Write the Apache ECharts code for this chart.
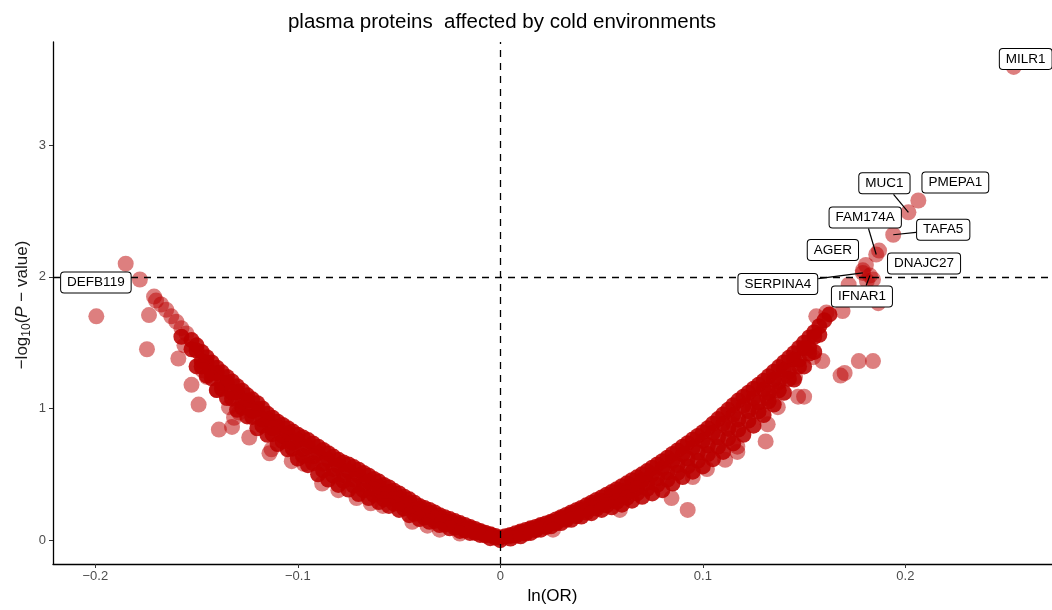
<!DOCTYPE html>
<html><head><meta charset="utf-8">
<script src="https://cdn.jsdelivr.net/npm/echarts@6/dist/echarts.min.js"></script>
<style>html,body{margin:0;padding:0;background:#fff}#c{width:1052px;height:610px}</style>
</head><body><div id="c"></div>
<script>
// ---------- data ----------
const titleText = 'plasma proteins  affected by cold environments';
const xTicks = [-0.2, -0.1, 0, 0.1, 0.2];
const yTicks = [0, 1, 2, 3];

// left branch of the volcano: rows across the dense band, from its upper edge to its lower edge
const leftUpper = [[-0.1525,1.52],[-0.15,1.48],[-0.1475,1.43],[-0.145,1.39],[-0.1425,1.35],[-0.14,1.31],[-0.1375,1.275],[-0.135,1.24],[-0.1325,1.205],[-0.13,1.17],[-0.1275,1.135],[-0.125,1.10],[-0.1225,1.07],[-0.12,1.04],[-0.1175,1.00],[-0.115,0.96],[-0.1125,0.93],[-0.11,0.90],[-0.1075,0.875],[-0.105,0.85],[-0.1025,0.825],[-0.1,0.80],[-0.0975,0.78],[-0.095,0.76],[-0.0925,0.735],[-0.09,0.71],[-0.0875,0.685],[-0.085,0.66],[-0.0825,0.635],[-0.08,0.61],[-0.0775,0.59],[-0.075,0.575],[-0.0725,0.555],[-0.07,0.535],[-0.0675,0.51],[-0.065,0.49],[-0.0625,0.465],[-0.06,0.445],[-0.0575,0.42],[-0.055,0.40],[-0.0525,0.375],[-0.05,0.355],[-0.0475,0.33],[-0.045,0.31],[-0.0425,0.285],[-0.04,0.26],[-0.0375,0.245],[-0.035,0.23],[-0.0325,0.21],[-0.03,0.19],[-0.0275,0.175],[-0.025,0.16],[-0.0225,0.145],[-0.02,0.13],[-0.0175,0.115],[-0.015,0.10],[-0.0125,0.085],[-0.01,0.07],[-0.0075,0.057],[-0.005,0.045],[-0.0025,0.032],[0,0.02]];
const leftUpper2 = [[-0.15,1.44],[-0.145,1.35],[-0.14,1.27],[-0.135,1.195],[-0.13,1.125],[-0.125,1.06],[-0.12,0.995],[-0.115,0.92],[-0.11,0.86],[-0.105,0.81],[-0.1,0.76],[-0.095,0.71],[-0.09,0.66],[-0.085,0.61],[-0.08,0.565],[-0.075,0.525],[-0.07,0.49],[-0.065,0.445],[-0.06,0.405],[-0.055,0.365],[-0.05,0.32],[-0.045,0.28],[-0.04,0.24],[-0.035,0.205],[-0.03,0.17],[-0.025,0.14],[-0.02,0.115],[-0.015,0.088],[-0.01,0.062],[-0.005,0.04]];
const leftMid = [[-0.1575,1.545],[-0.1525,1.45],[-0.1475,1.36],[-0.1425,1.27],[-0.1375,1.19],[-0.1325,1.12],[-0.1275,1.05],[-0.1225,0.98],[-0.1175,0.915],[-0.1125,0.85],[-0.1075,0.79],[-0.1025,0.74],[-0.0975,0.69],[-0.0925,0.635],[-0.0875,0.58],[-0.0825,0.54],[-0.0775,0.495],[-0.0725,0.46],[-0.0675,0.42],[-0.0625,0.385],[-0.0575,0.345],[-0.0525,0.31],[-0.0475,0.27],[-0.0425,0.23],[-0.0375,0.195],[-0.0325,0.165],[-0.0275,0.135],[-0.0225,0.11],[-0.0175,0.085],[-0.0125,0.065],[-0.0075,0.045],[-0.0025,0.02]];
const leftLower2 = [[-0.1475,1.32],[-0.1425,1.23],[-0.1375,1.15],[-0.1325,1.075],[-0.1275,1.005],[-0.1225,0.935],[-0.1175,0.87],[-0.1125,0.805],[-0.1075,0.75],[-0.1025,0.695],[-0.0975,0.64],[-0.0925,0.585],[-0.0875,0.53],[-0.0825,0.49],[-0.0775,0.45],[-0.0725,0.415],[-0.0675,0.378],[-0.0625,0.345],[-0.0575,0.31],[-0.0525,0.278],[-0.0475,0.24],[-0.0425,0.20],[-0.0375,0.172],[-0.0325,0.146],[-0.0275,0.119],[-0.0225,0.095],[-0.0175,0.073],[-0.0125,0.056],[-0.0075,0.036]];
const leftLower = [[-0.15,1.32],[-0.145,1.25],[-0.14,1.14],[-0.135,1.08],[-0.13,0.99],[-0.125,0.94],[-0.12,0.85],[-0.115,0.80],[-0.11,0.73],[-0.105,0.69],[-0.1,0.62],[-0.095,0.57],[-0.09,0.50],[-0.085,0.46],[-0.08,0.42],[-0.075,0.385],[-0.07,0.35],[-0.065,0.32],[-0.06,0.29],[-0.055,0.26],[-0.05,0.23],[-0.045,0.19],[-0.04,0.16],[-0.035,0.14],[-0.03,0.115],[-0.025,0.09],[-0.02,0.07],[-0.015,0.055],[-0.01,0.04],[-0.005,0.015],[0,0.0]];
const leftOutliers = [[-0.1995,1.70],[-0.185,2.10],[-0.171,1.85],[-0.170,1.82],[-0.1675,1.79],[-0.165,1.75],[-0.1625,1.70],[-0.16,1.66],[-0.1575,1.61],[-0.155,1.57],[-0.1735,1.71],[-0.1745,1.45],[-0.159,1.38],[-0.156,1.48],[-0.1525,1.18],[-0.149,1.03],[-0.147,1.29],[-0.145,1.24],[-0.140,1.14],[-0.139,0.84],[-0.134,1.01],[-0.1325,0.86],[-0.1315,0.93],[-0.129,0.97],[-0.124,0.78],[-0.114,0.66],[-0.113,0.69],[-0.103,0.60],[-0.097,0.58],[-0.088,0.43],[-0.08,0.38],[-0.071,0.32],[-0.064,0.28],[-0.058,0.26],[-0.0435,0.14],[-0.036,0.11],[-0.030,0.08],[-0.020,0.05]];

// right branch
const rightUpper = [[0.0025,0.03],[0.005,0.04],[0.0075,0.052],[0.01,0.065],[0.0125,0.077],[0.015,0.09],[0.0175,0.10],[0.02,0.115],[0.0225,0.127],[0.025,0.14],[0.0275,0.157],[0.03,0.175],[0.0325,0.192],[0.035,0.21],[0.0375,0.227],[0.04,0.245],[0.0425,0.265],[0.045,0.285],[0.0475,0.305],[0.05,0.325],[0.0525,0.345],[0.055,0.365],[0.0575,0.387],[0.06,0.41],[0.0625,0.432],[0.065,0.455],[0.0675,0.477],[0.07,0.50],[0.0725,0.525],[0.075,0.55],[0.0775,0.575],[0.08,0.60],[0.0825,0.627],[0.085,0.655],[0.0875,0.682],[0.09,0.71],[0.0925,0.737],[0.095,0.765],[0.0975,0.792],[0.1,0.82],[0.1025,0.85],[0.105,0.885],[0.1075,0.92],[0.11,0.955],[0.1125,0.99],[0.115,1.025],[0.1175,1.06],[0.12,1.09],[0.1225,1.12],[0.125,1.15],[0.1275,1.18],[0.13,1.21],[0.1325,1.245],[0.135,1.28],[0.1375,1.315],[0.14,1.35],[0.1425,1.385],[0.145,1.42],[0.1475,1.46],[0.15,1.50],[0.1525,1.54],[0.155,1.58],[0.1575,1.625],[0.16,1.67],[0.1625,1.715]];
const rightUpper2 = [[0.005,0.032],[0.01,0.056],[0.015,0.081],[0.02,0.106],[0.025,0.132],[0.03,0.164],[0.035,0.196],[0.04,0.23],[0.045,0.265],[0.05,0.30],[0.055,0.336],[0.06,0.376],[0.065,0.416],[0.07,0.457],[0.075,0.50],[0.08,0.546],[0.085,0.60],[0.09,0.652],[0.095,0.704],[0.1,0.756],[0.105,0.817],[0.11,0.884],[0.115,0.952],[0.12,1.02],[0.125,1.08],[0.13,1.146],[0.135,1.22],[0.14,1.295],[0.145,1.372],[0.15,1.457],[0.155,1.545]];
const rightMid = [[0.0075,0.035],[0.0125,0.058],[0.0175,0.085],[0.0225,0.11],[0.0275,0.137],[0.0325,0.168],[0.0375,0.197],[0.0425,0.23],[0.0475,0.26],[0.0525,0.29],[0.0575,0.325],[0.0625,0.36],[0.0675,0.395],[0.0725,0.435],[0.0775,0.47],[0.0825,0.515],[0.0875,0.57],[0.0925,0.62],[0.0975,0.665],[0.1025,0.72],[0.1075,0.78],[0.1125,0.845],[0.1175,0.915],[0.1225,0.98],[0.1275,1.045],[0.1325,1.12],[0.1375,1.20],[0.1425,1.28],[0.1475,1.37],[0.1525,1.46],[0.1575,1.56]];
const rightLower2 = [[0.0125,0.05],[0.0175,0.076],[0.0225,0.10],[0.0275,0.127],[0.0325,0.155],[0.0375,0.182],[0.0425,0.21],[0.0475,0.24],[0.0525,0.265],[0.0575,0.292],[0.0625,0.322],[0.0675,0.355],[0.0725,0.39],[0.0775,0.42],[0.0825,0.46],[0.0875,0.512],[0.0925,0.56],[0.0975,0.603],[0.1025,0.654],[0.1075,0.71],[0.1125,0.774],[0.1175,0.84],[0.1225,0.908],[0.1275,0.978],[0.1325,1.055],[0.1375,1.138],[0.1425,1.225],[0.1475,1.32],[0.1525,1.418]];
const rightLower = [[0.005,0.012],[0.01,0.03],[0.015,0.055],[0.02,0.08],[0.025,0.105],[0.03,0.13],[0.035,0.155],[0.04,0.18],[0.045,0.205],[0.05,0.23],[0.055,0.25],[0.06,0.27],[0.065,0.30],[0.07,0.33],[0.075,0.355],[0.08,0.38],[0.085,0.43],[0.09,0.48],[0.095,0.52],[0.1,0.56],[0.105,0.615],[0.11,0.67],[0.115,0.735],[0.12,0.80],[0.125,0.87],[0.13,0.95],[0.135,1.03],[0.14,1.12],[0.145,1.22],[0.15,1.32],[0.155,1.43]];
const rightOutliers = [[0.026,0.08],[0.059,0.23],[0.0845,0.32],[0.0925,0.23],[0.095,0.48],[0.102,0.54],[0.111,0.61],[0.117,0.67],[0.117,0.71],[0.115,0.88],[0.1245,1.01],[0.131,0.75],[0.132,0.88],[0.1315,1.08],[0.1345,1.14],[0.137,1.01],[0.1395,1.24],[0.1455,1.24],[0.147,1.09],[0.150,1.09],[0.150,1.46],[0.1545,1.39],[0.159,1.36],[0.168,1.25],[0.170,1.27],[0.177,1.36],[0.184,1.36],[0.156,1.70],[0.161,1.73],[0.169,1.74],[0.172,1.94],[0.1866,1.80],[0.181,1.97],[0.184,1.98],[0.179,2.05]];

// labelled proteins
const labelNames = ['MILR1','PMEPA1','MUC1','TAFA5','DNAJC27','FAM174A','AGER','SERPINA4','IFNAR1','DEFB119'];
const labelLnOR  = [0.2535, 0.2064, 0.2015, 0.194, 0.187, 0.1856, 0.1805, 0.179, 0.1825, -0.178];
const labelLogP  = [3.595, 2.58, 2.49, 2.32, 2.20, 2.17, 2.09, 2.03, 2.01, 1.98];

// ---------- styling / layout of the label boxes (pixel offsets from the point) ----------
const labelStyle = {
  MILR1:   {dx: 12,  dy: -8,  line: false},
  PMEPA1:  {dx: 37,  dy: -18, line: false},
  MUC1:    {dx: -24, dy: -29, line: true},
  TAFA5:   {dx: 50,  dy: -5,  line: true},
  DNAJC27: {dx: 45,  dy: 13,  line: false},
  FAM174A: {dx: -11, dy: -37, line: true},
  AGER:    {dx: -33, dy: -15, line: false},
  SERPINA4:{dx: -85, dy: 11,  line: true},
  IFNAR1:  {dx: -8,  dy: 21,  line: true},
  DEFB119: {dx: -44, dy: 3,   line: false}
};

const FONT = "'Liberation Sans', Arial, Helvetica, sans-serif";
const POINT_COLOR = '#bb0000';
const fmt = v => (v < 0 ? '\u2212' + Math.abs(v) : String(v));

const chart = echarts.init(document.getElementById('c'), null, {renderer: 'canvas'});
const bandPoints = [].concat(leftUpper, leftUpper2, leftMid, leftLower2, leftLower,
                             rightUpper, rightUpper2, rightMid, rightLower2, rightLower);
const loosePoints = [].concat(leftOutliers, rightOutliers);
const labeledData = labelNames.map((n, i) => [labelLnOR[i], labelLogP[i]]);

chart.setOption({
  animation: false,
  grid: {left: 53, right: 0, top: 42, bottom: 42},
  xAxis: {
    type: 'value', min: -0.2209, max: 0.2724,
    name: 'ln(OR)', nameLocation: 'middle', nameGap: 24,
    nameTextStyle: {fontFamily: FONT, fontSize: 17, color: '#000'},
    axisLine: {show: true, onZero: false, lineStyle: {color: '#000', width: 1.3}},
    axisTick: {show: true, length: 4, customValues: xTicks, lineStyle: {color: '#333', width: 1}},
    axisLabel: {customValues: xTicks, formatter: fmt, fontFamily: FONT, fontSize: 13, color: '#4d4d4d', margin: 6},
    splitLine: {show: false}
  },
  yAxis: {
    type: 'value', min: -0.181, max: 3.784,
    axisLine: {show: true, onZero: false, lineStyle: {color: '#000', width: 1.3}},
    axisTick: {show: true, length: 4, customValues: yTicks, lineStyle: {color: '#333', width: 1}},
    axisLabel: {customValues: yTicks, formatter: fmt, fontFamily: FONT, fontSize: 13, color: '#4d4d4d', margin: 7},
    splitLine: {show: false}
  },
  series: [
    {
      // the dense band holds thousands of overlapping proteins, so it reads as nearly opaque
      type: 'scatter', data: bandPoints, symbolSize: 16, itemStyle: {color: POINT_COLOR, opacity: 0.88}, silent: true, z: 2,
      markLine: {
        silent: true, animation: false, symbol: ['none', 'none'], label: {show: false}, z: 5,
        lineStyle: {type: [7, 6], color: '#000', width: 1.3},
        data: [{xAxis: 0}, {yAxis: 2}]
      }
    },
    {type: 'scatter', data: loosePoints, symbolSize: 16, itemStyle: {color: POINT_COLOR, opacity: 0.5}, silent: true, z: 3},
    {type: 'scatter', data: labeledData, symbolSize: 16, itemStyle: {color: POINT_COLOR, opacity: 0.5}, silent: true, z: 3}
  ]
});

// ---------- annotation boxes, title, y title ----------
const ctx = document.createElement('canvas').getContext('2d');
const LFS = 13.5;
ctx.font = LFS + 'px ' + FONT;
const graphics = [];
labelNames.forEach((name, i) => {
  const p = chart.convertToPixel({xAxisIndex: 0, yAxisIndex: 0}, [labelLnOR[i], labelLogP[i]]);
  const st = labelStyle[name];
  const cx = p[0] + st.dx, cy = p[1] + st.dy;
  const hw = (ctx.measureText(name).width + 14) / 2, hh = 11;
  if (st.line) {
    const dx = p[0] - cx, dy = p[1] - cy;
    const s = Math.min(dx ? hw / Math.abs(dx) : Infinity, dy ? hh / Math.abs(dy) : Infinity);
    graphics.push({type: 'line', z: 100, silent: true,
      shape: {x1: p[0], y1: p[1], x2: cx + dx * s, y2: cy + dy * s},
      style: {stroke: '#000', lineWidth: 1.2}});
  }
  graphics.push({type: 'text', z: 101, silent: true, x: cx, y: cy,
    style: {text: name, fontFamily: FONT, fontSize: LFS, fill: '#000', align: 'center', verticalAlign: 'middle',
      backgroundColor: '#fff', borderColor: '#000', borderWidth: 1, borderRadius: 3, padding: [3, 6]}});
});
graphics.push({type: 'text', silent: true, x: 502, y: 22,
  style: {text: titleText, fontFamily: FONT, fontSize: 20.5, fill: '#000', align: 'center', verticalAlign: 'middle'}});
graphics.push({type: 'text', silent: true, x: 22, y: 305, rotation: Math.PI / 2,
  style: {text: '{m|\u2212log}{s|10}{m|(}{i|P}{m| \u2212 value)}', align: 'center', verticalAlign: 'middle',
    rich: {
      m: {fontFamily: FONT, fontSize: 17, fill: '#1a1a1a', lineHeight: 22, verticalAlign: 'middle'},
      i: {fontFamily: FONT, fontSize: 17, fontStyle: 'italic', fill: '#1a1a1a', lineHeight: 22, verticalAlign: 'middle'},
      s: {fontFamily: FONT, fontSize: 12, fill: '#1a1a1a', lineHeight: 13, verticalAlign: 'bottom'}
    }}});
chart.setOption({graphic: graphics});
</script>
</body></html>
